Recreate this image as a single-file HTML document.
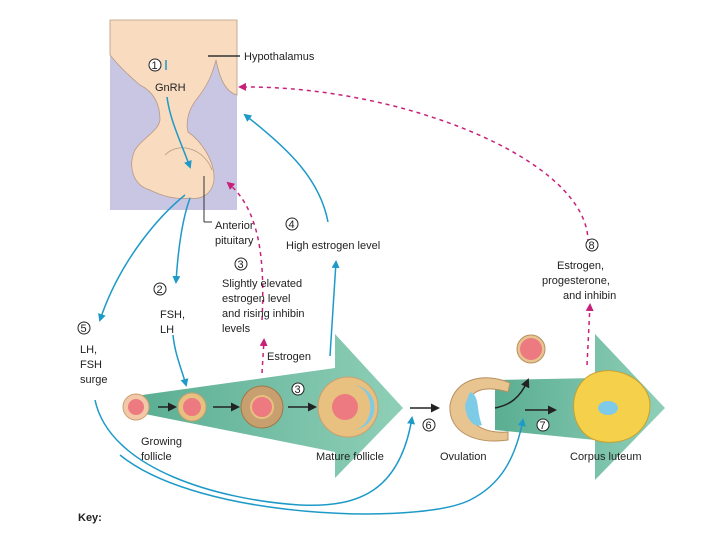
<!DOCTYPE html>
<html><head><style>
html,body{margin:0;padding:0;background:#fff;width:720px;height:540px;overflow:hidden}
text{font-family:"Liberation Sans",sans-serif;font-size:11px;fill:#222}
</style></head><body>
<svg width="720" height="540" viewBox="0 0 720 540" xmlns="http://www.w3.org/2000/svg">
<defs>
<marker id="ab" markerWidth="8" markerHeight="8" refX="6" refY="4" orient="auto" markerUnits="userSpaceOnUse"><path d="M0,0 L8,4 L0,8 z" fill="#1e9ac8"/></marker>
<marker id="ap" markerWidth="8" markerHeight="8" refX="6" refY="4" orient="auto" markerUnits="userSpaceOnUse"><path d="M0,0 L8,4 L0,8 z" fill="#c8207a"/></marker>
<marker id="ak" markerWidth="9" markerHeight="9" refX="7" refY="4.5" orient="auto" markerUnits="userSpaceOnUse"><path d="M0,0 L9,4.5 L0,9 z" fill="#222"/></marker>
<linearGradient id="g" x1="0" x2="1" y1="0" y2="0"><stop offset="0" stop-color="#5aae92"/><stop offset="1" stop-color="#8fcfb8"/></linearGradient>
</defs>
<rect x="110" y="20" width="127" height="190" fill="#c9c6e4"/>
<path d="M110,20 H237 V95 C226,92 220,80 216,60 C212,75 208,85 196,100 C190,108 185,120 188,132 C200,140 215,160 214,180 C212,195 200,200 190,198 C175,200 160,195 150,190 C132,185 128,165 135,150 C142,138 158,132 160,120 C160,100 150,90 140,85 C128,75 118,65 110,55 Z" fill="#f9dcc0" stroke="#b89a80" stroke-width="0.8"/>
<path d="M165,155 C180,140 205,150 212,170" fill="none" stroke="#b89a80" stroke-width="0.8"/>
<line x1="208" y1="56" x2="240" y2="56" stroke="#333" stroke-width="1.5"/>
<text x="244" y="60">Hypothalamus</text>
<circle cx="155" cy="65" r="6" fill="#fff" stroke="#222"/><text x="151.5" y="69" font-size="9">1</text>
<text x="155" y="91">GnRH</text>
<path d="M166,60 L166,70 M167,97 C170,120 180,140 190,167" fill="none" stroke="#1e9ac8" stroke-width="1.5" marker-end="url(#ab)"/>
<line x1="204" y1="176" x2="204" y2="222" stroke="#333"/><line x1="204" y1="222" x2="212" y2="222" stroke="#333"/>
<text x="215" y="229">Anterior</text><text x="215" y="244">pituitary</text>
<path d="M135,396 L335,368 L335,334 L403,408 L335,478 L335,452 L135,412 Z" fill="url(#g)"/>
<path d="M495,380 L595,378 L595,334 L665,408 L595,480 L595,440 L495,430 Z" fill="url(#g)"/>
<circle cx="136" cy="407" r="13" fill="#f2c8a8" stroke="#c9a070"/><circle cx="136" cy="407" r="8" fill="#ec7a80"/>
<circle cx="192" cy="407" r="14" fill="#e8c080" stroke="#c9a070"/><circle cx="192" cy="407" r="9" fill="#ec7a80"/>
<circle cx="262" cy="407" r="21" fill="#c8a070" stroke="#a07848"/><circle cx="262" cy="407" r="11" fill="#ec7a80" stroke="#e8c080" stroke-width="2"/>
<circle cx="348" cy="407" r="30" fill="#e8c080" stroke="#c9a070"/><path d="M352,385 A22,22 0 0 1 352,430 A18,22 0 0 0 352,385z" fill="#7ecbe8"/><circle cx="345" cy="407" r="13" fill="#ec7a80"/>
<line x1="158" y1="407" x2="175" y2="407" stroke="#222" stroke-width="1.5" marker-end="url(#ak)"/>
<line x1="213" y1="407" x2="238" y2="407" stroke="#222" stroke-width="1.5" marker-end="url(#ak)"/>
<line x1="288" y1="407" x2="315" y2="407" stroke="#222" stroke-width="1.5" marker-end="url(#ak)"/>
<line x1="410" y1="408" x2="438" y2="408" stroke="#222" stroke-width="1.5" marker-end="url(#ak)"/>
<circle cx="298" cy="389" r="6" fill="#fff" stroke="#222"/><text x="294.5" y="393" font-size="9">3</text>
<path d="M510,383 C485,372 455,378 450,405 C448,432 475,445 508,440 L508,432 C480,434 465,420 468,405 C470,390 485,385 508,392 Z" fill="#e8c490" stroke="#b89060"/>
<path d="M470,392 C480,395 476,410 482,425 C474,428 466,420 465,405 Z" fill="#7ecbe8"/>
<path d="M495,408 C510,405 520,398 528,380" fill="none" stroke="#222" stroke-width="1.5" marker-end="url(#ak)"/>
<circle cx="531" cy="349" r="14" fill="#e8c490" stroke="#b89060"/><circle cx="531" cy="349" r="11" fill="#ec7a80"/>
<line x1="525" y1="410" x2="555" y2="410" stroke="#222" stroke-width="1.5" marker-end="url(#ak)"/>
<path d="M590,375 C615,362 650,380 650,405 C650,435 620,448 595,440 C570,432 565,390 590,375 Z" fill="#f5d04a" stroke="#c8a030"/>
<ellipse cx="608" cy="408" rx="10" ry="7" fill="#7ecbe8"/>
<circle cx="429" cy="425" r="6" fill="#fff" stroke="#222"/><text x="425.5" y="429" font-size="9">6</text>
<circle cx="543" cy="425" r="6" fill="#fff" stroke="#222"/><text x="539.5" y="429" font-size="9">7</text>
<path d="M185,195 C160,215 120,260 100,320" fill="none" stroke="#1e9ac8" stroke-width="1.5" marker-end="url(#ab)"/>
<path d="M190,198 C182,220 178,250 176,282" fill="none" stroke="#1e9ac8" stroke-width="1.5" marker-end="url(#ab)"/>
<path d="M173,335 C175,355 182,370 186,385" fill="none" stroke="#1e9ac8" stroke-width="1.5" marker-end="url(#ab)"/>
<path d="M328,222 C320,180 290,150 245,115" fill="none" stroke="#1e9ac8" stroke-width="1.5" marker-end="url(#ab)"/>
<path d="M330,356 L336,262" fill="none" stroke="#1e9ac8" stroke-width="1.5" marker-end="url(#ab)"/>
<path d="M95,400 C110,470 220,500 300,505 C360,508 400,490 412,418" fill="none" stroke="#1e9ac8" stroke-width="1.5" marker-end="url(#ab)"/>
<path d="M120,455 C200,520 420,525 470,500 C500,485 515,460 523,420" fill="none" stroke="#1e9ac8" stroke-width="1.5" marker-end="url(#ab)"/>
<path d="M262,320 C265,260 260,210 228,183" fill="none" stroke="#c8207a" stroke-width="1.5" stroke-dasharray="4,4" marker-end="url(#ap)"/>
<path d="M262,373 L264,340" fill="none" stroke="#c8207a" stroke-width="1.5" stroke-dasharray="4,4" marker-end="url(#ap)"/>
<path d="M587,365 L590,305" fill="none" stroke="#c8207a" stroke-width="1.5" stroke-dasharray="4,4" marker-end="url(#ap)"/>
<path d="M588,243 C590,160 400,85 240,87" fill="none" stroke="#c8207a" stroke-width="1.5" stroke-dasharray="4,4" marker-end="url(#ap)"/>
<circle cx="292" cy="224" r="6" fill="#fff" stroke="#222"/><text x="288.5" y="228" font-size="9">4</text>
<text x="286" y="249">High estrogen level</text>
<circle cx="241" cy="264" r="6" fill="#fff" stroke="#222"/><text x="237.5" y="268" font-size="9">3</text>
<text x="222" y="287">Slightly elevated</text>
<text x="222" y="302">estrogen level</text>
<text x="222" y="317">and rising inhibin</text>
<text x="222" y="332">levels</text>
<circle cx="160" cy="289" r="6" fill="#fff" stroke="#222"/><text x="156.5" y="293" font-size="9">2</text>
<text x="160" y="318">FSH,</text><text x="160" y="333">LH</text>
<circle cx="84" cy="328" r="6" fill="#fff" stroke="#222"/><text x="80.5" y="332" font-size="9">5</text>
<text x="80" y="353">LH,</text><text x="80" y="368">FSH</text><text x="80" y="383">surge</text>
<text x="267" y="360">Estrogen</text>
<text x="141" y="445">Growing</text><text x="141" y="460">follicle</text>
<text x="316" y="460">Mature follicle</text>
<text x="440" y="460">Ovulation</text>
<text x="570" y="460">Corpus luteum</text>
<circle cx="592" cy="245" r="6" fill="#fff" stroke="#222"/><text x="588.5" y="249" font-size="9">8</text>
<text x="557" y="269">Estrogen,</text>
<text x="542" y="284">progesterone,</text>
<text x="563" y="299">and inhibin</text>
<text x="78" y="521" font-weight="bold" font-size="10">Key:</text>
</svg>
</body></html>
